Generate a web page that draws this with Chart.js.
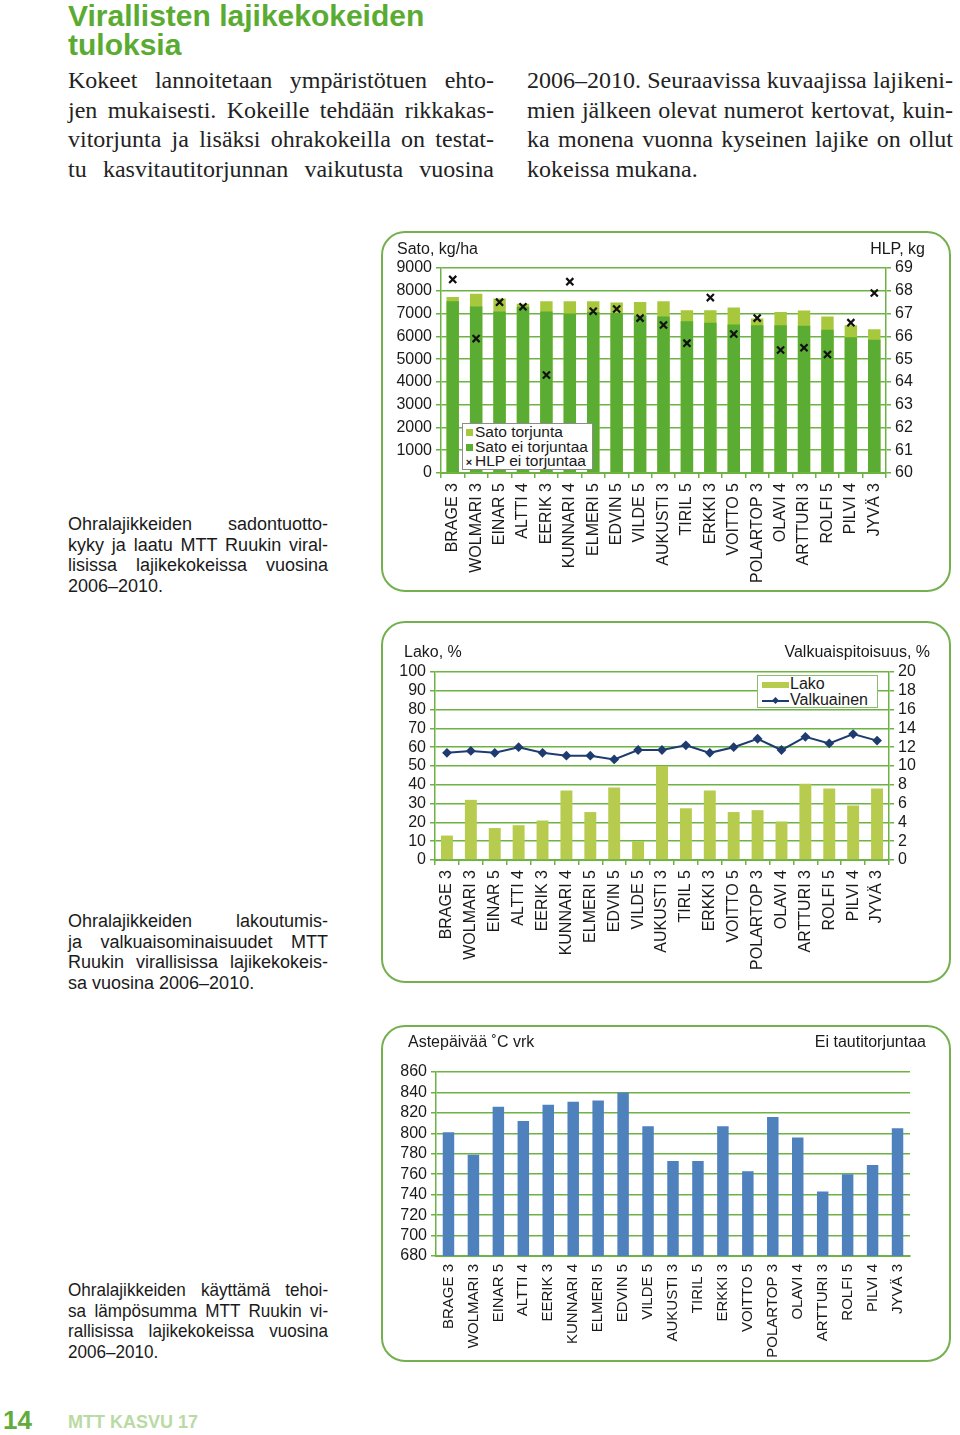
<!DOCTYPE html>
<html lang="fi">
<head>
<meta charset="utf-8">
<script src="https://cdn.jsdelivr.net/npm/chart.js@4/dist/chart.umd.min.js"></script>
<style>
  html, body { margin: 0; padding: 0; background: #fff; }
  body { position: relative; width: 960px; height: 1435px; overflow: hidden; font-family: "Liberation Sans", Arial, sans-serif; color: #1a1a1a; }
  .abs { position: absolute; }
  h1 { position: absolute; left: 68px; top: 1px; margin: 0; font: bold 30px/29px "Liberation Sans", Arial, sans-serif; color: #5aab32; }
  .col { position: absolute; top: 66px; width: 426px; font: 24px/29.7px "Liberation Serif", "DejaVu Serif", serif; color: #222; }
  .col div { text-align: justify; text-align-last: justify; }
  .col div.last { text-align-last: left; }
  .cap { position: absolute; left: 68px; width: 260px; font: 18px/20.6px "Liberation Sans", Arial, sans-serif; color: #1a1a1a; }
  .cap div { text-align: justify; text-align-last: justify; }
  .cap div.last { text-align-last: left; }
  .cap.narrow { width: 289px; font-size: 19px; transform: scaleX(0.9); transform-origin: 0 0; }
  .box { position: absolute; left: 381px; width: 570px; box-sizing: border-box; border: 2px solid #74b04f; border-radius: 24px; }
  canvas { position: absolute; left: 381px; }
  .lbl { position: absolute; font-size: 16px; line-height: 18px; white-space: nowrap; color: #1a1a1a; }
  .legend { position: absolute; background: #fff; font-size: 15.5px; line-height: 14.5px; white-space: nowrap; }
  .sw { display: inline-block; vertical-align: middle; }
</style>
</head>
<body>

<h1>Virallisten lajikekokeiden<br>tuloksia</h1>

<div class="col" style="left:68px">
  <div>Kokeet lannoitetaan ympäristötuen ehto-</div>
  <div>jen mukaisesti. Kokeille tehdään rikkakas-</div>
  <div>vitorjunta ja lisäksi ohrakokeilla on testat-</div>
  <div>tu kasvitautitorjunnan vaikutusta vuosina</div>
</div>
<div class="col" style="left:527px">
  <div>2006–2010. Seuraavissa kuvaajissa lajikeni-</div>
  <div>mien jälkeen olevat numerot kertovat, kuin-</div>
  <div>ka monena vuonna kyseinen lajike on ollut</div>
  <div class="last">kokeissa mukana.</div>
</div>

<div class="cap" style="top:514px">
  <div>Ohralajikkeiden sadontuotto-</div>
  <div>kyky ja laatu MTT Ruukin viral-</div>
  <div>lisissa lajikekokeissa vuosina</div>
  <div class="last">2006–2010.</div>
</div>
<div class="cap" style="top:911px">
  <div>Ohralajikkeiden lakoutumis-</div>
  <div>ja valkuaisominaisuudet MTT</div>
  <div>Ruukin virallisissa lajikekokeis-</div>
  <div class="last">sa vuosina 2006–2010.</div>
</div>
<div class="cap narrow" style="top:1280px">
  <div>Ohralajikkeiden käyttämä tehoi-</div>
  <div>sa lämpösumma MTT Ruukin vi-</div>
  <div>rallisissa lajikekokeissa vuosina</div>
  <div class="last">2006–2010.</div>
</div>

<div class="box" style="top:231px; height:361px"></div>
<div class="box" style="top:621px; height:362px"></div>
<div class="box" style="top:1025px; height:337px"></div>

<canvas id="c1" width="570" height="361" style="top:231px"></canvas>
<canvas id="c2" width="570" height="362" style="top:621px"></canvas>
<canvas id="c3" width="570" height="337" style="top:1025px"></canvas>

<div class="lbl" style="left:397px; top:240px">Sato, kg/ha</div>
<div class="lbl" style="right:35px; top:240px">HLP, kg</div>
<div class="lbl" style="left:404px; top:643px">Lako, %</div>
<div class="lbl" style="right:30px; top:643px">Valkuaispitoisuus, %</div>
<div class="lbl" style="left:408px; top:1033px">Astepäivää ˚C vrk</div>
<div class="lbl" style="right:34px; top:1033px">Ei tautitorjuntaa</div>

<div id="leg1" class="legend" style="left:462px; top:423px; width:129px; height:44px; border:1px solid #8c8c8c; padding-top:1px"></div>
<div id="leg2" class="legend" style="left:757px; top:675px; width:119px; height:31px; border:1px solid #8dbd6c; font-size:16px; line-height:16px"></div>

<div class="abs" style="left:3px; top:1405px; font: bold 26px/30px 'Liberation Sans', Arial, sans-serif; color:#62ac3c">14</div>
<div class="abs" style="left:68px; top:1411px; font: bold 18px/22px 'Liberation Sans', Arial, sans-serif; color:#b9dba3">MTT KASVU 17</div>

<script>
// lajikkeet (numero = vuodet kokeissa)
const lajikkeet = ['BRAGE 3', 'WOLMARI 3', 'EINAR 5', 'ALTTI 4', 'EERIK 3', 'KUNNARI 4', 'ELMERI 5', 'EDVIN 5',
  'VILDE 5', 'AUKUSTI 3', 'TIRIL 5', 'ERKKI 3', 'VOITTO 5', 'POLARTOP 3', 'OLAVI 4', 'ARTTURI 3', 'ROLFI 5', 'PILVI 4', 'JYVÄ 3'];

// kuva 1: sato kg/ha ja hehtolitrapaino
const satoTorjunta = [7730, 7870, 7660, 7430, 7540, 7540, 7540, 7490, 7510, 7540, 7150, 7150, 7270, 6780, 7070, 7130, 6870, 6490, 6310];
const satoEiTorjuntaa = [7540, 7310, 7090, 7300, 7090, 7000, 7070, 7020, 6900, 6870, 6660, 6600, 6520, 6490, 6490, 6460, 6290, 5960, 5850];
const hlpEiTorjuntaa = [68.5, 65.9, 67.5, 67.3, 64.3, 68.4, 67.1, 67.2, 66.8, 66.5, 65.7, 67.7, 66.1, 66.8, 65.4, 65.5, 65.2, 66.6, 67.9];

// kuva 2: lako % ja valkuainen %
const lako = [13, 32, 17, 18.5, 21, 37, 25.5, 38.5, 10, 50, 27.5, 37, 25.5, 26.5, 20.5, 40.5, 38, 29, 38];
const valkuainen = [11.4, 11.6, 11.4, 12.0, 11.4, 11.1, 11.1, 10.7, 11.7, 11.7, 12.2, 11.4, 12.0, 12.9, 11.7, 13.1, 12.4, 13.4, 12.7];

// kuva 3: astepäivät
const astepaivat = [801, 779, 826, 812, 828, 831, 832, 840, 807, 773, 773, 807, 763, 816, 796, 743, 760, 769, 805];

const GRID = '#6cb343';
const TXT = '#1a1a1a';
const FONT = { family: "'Liberation Sans', Arial, sans-serif", size: 16 };

function xAxis(h, ticksOn, stacked, size, pad) {
  return {
    stacked: !!stacked,
    grid: { display: ticksOn, drawOnChartArea: false, color: GRID, lineWidth: 1.5, tickLength: 5, offset: true },
    border: { display: true, color: GRID, width: 2 },
    ticks: { minRotation: 90, maxRotation: 90, autoSkip: false, color: TXT,
      font: Object.assign({}, FONT, { size: size || 16 }), padding: pad == null ? 5 : pad },
    afterFit: s => { s.height = h; }
  };
}

function yAxis(pos, min, max, step, w, onChart) {
  return {
    position: pos, min: min, max: max,
    grid: { color: GRID, lineWidth: 1.5, tickLength: 5, drawOnChartArea: onChart },
    border: { display: true, color: GRID, width: 1.5 },
    ticks: { stepSize: step, autoSkip: false, color: TXT, font: FONT, padding: 4, callback: v => String(v) },
    afterFit: s => { s.width = w; }
  };
}

const common = {
  responsive: false,
  animation: false,
  events: [],
  plugins: { legend: { display: false }, tooltip: { enabled: false } }
};

// kuva 1
const ch1 = new Chart(document.getElementById('c1'), {
  type: 'bar',
  data: {
    labels: lajikkeet,
    datasets: [
      { type: 'line', label: 'HLP ei torjuntaa', data: hlpEiTorjuntaa, yAxisID: 'y2', showLine: false,
        pointStyle: 'crossRot', pointRadius: 5, borderWidth: 2.2, borderColor: '#111', order: 0 },
      { label: 'Sato ei torjuntaa', data: satoEiTorjuntaa, backgroundColor: '#5aac33', yAxisID: 'y',
        barPercentage: 0.53, categoryPercentage: 1, order: 1 },
      { label: 'Sato torjunta', data: satoTorjunta, backgroundColor: '#a7c83c', yAxisID: 'y',
        barPercentage: 0.53, categoryPercentage: 1, order: 2 }
    ]
  },
  options: Object.assign({}, common, {
    layout: { padding: { top: 37 } },
    scales: {
      x: xAxis(119, true, true),
      y: yAxis('left', 0, 9000, 1000, 60, true),
      y2: yAxis('right', 60, 69, 1, 65, false)
    }
  })
});

// kuva 2
const ch2 = new Chart(document.getElementById('c2'), {
  type: 'bar',
  data: {
    labels: lajikkeet,
    datasets: [
      { type: 'line', label: 'Valkuainen', data: valkuainen, yAxisID: 'y2', borderColor: '#1f3c70', borderWidth: 2,
        pointStyle: 'rectRot', pointRadius: 3.5, pointBackgroundColor: '#1f3c70', pointBorderColor: '#1f3c70', order: 0 },
      { label: 'Lako', data: lako, backgroundColor: '#b7cb4e', yAxisID: 'y',
        barPercentage: 0.5, categoryPercentage: 1, order: 1 }
    ]
  },
  options: Object.assign({}, common, {
    layout: { padding: { top: 51 } },
    scales: {
      x: xAxis(123, true),
      y: yAxis('left', 0, 100, 10, 54, true),
      y2: yAxis('right', 0, 20, 2, 62, false)
    }
  })
});

// kuva 3
const ch3 = new Chart(document.getElementById('c3'), {
  type: 'bar',
  data: {
    labels: lajikkeet,
    datasets: [
      { label: 'Astepäivää', data: astepaivat, backgroundColor: '#4f81bd', barPercentage: 0.46, categoryPercentage: 1 }
    ]
  },
  options: Object.assign({}, common, {
    layout: { padding: { top: 47, right: 41 } },
    scales: {
      x: xAxis(106, false, false, 15, 3),
      y: yAxis('left', 680, 860, 20, 55, true)
    }
  })
});

// selitteet kaavioiden sisään
function legendRow(sw, text) {
  return '<div>' + sw + '<span>' + text + '</span></div>';
}
const d1 = ch1.data.datasets;
document.getElementById('leg1').innerHTML =
  legendRow('<span class="sw" style="width:7px;height:7px;margin:0 2px 0 3px;background:' + d1[2].backgroundColor + '"></span>', d1[2].label) +
  legendRow('<span class="sw" style="width:7px;height:7px;margin:0 2px 0 3px;background:' + d1[1].backgroundColor + '"></span>', d1[1].label) +
  legendRow('<span class="sw" style="width:12px;font-size:11px;line-height:10px;text-align:center;font-weight:bold">×</span>', d1[0].label);
const d2 = ch2.data.datasets;
document.getElementById('leg2').innerHTML =
  legendRow('<span class="sw" style="width:27px;height:6px;margin:0 1px 0 4px;background:' + d2[1].backgroundColor + '"></span>', d2[1].label) +
  legendRow('<span class="sw" style="position:relative;width:27px;height:2px;margin:0 1px 0 4px;background:' + d2[0].borderColor +
    '"><span style="position:absolute;left:11px;top:-2px;width:5px;height:5px;transform:rotate(45deg);background:' + d2[0].borderColor + '"></span></span>', d2[0].label);
</script>
</body>
</html>
